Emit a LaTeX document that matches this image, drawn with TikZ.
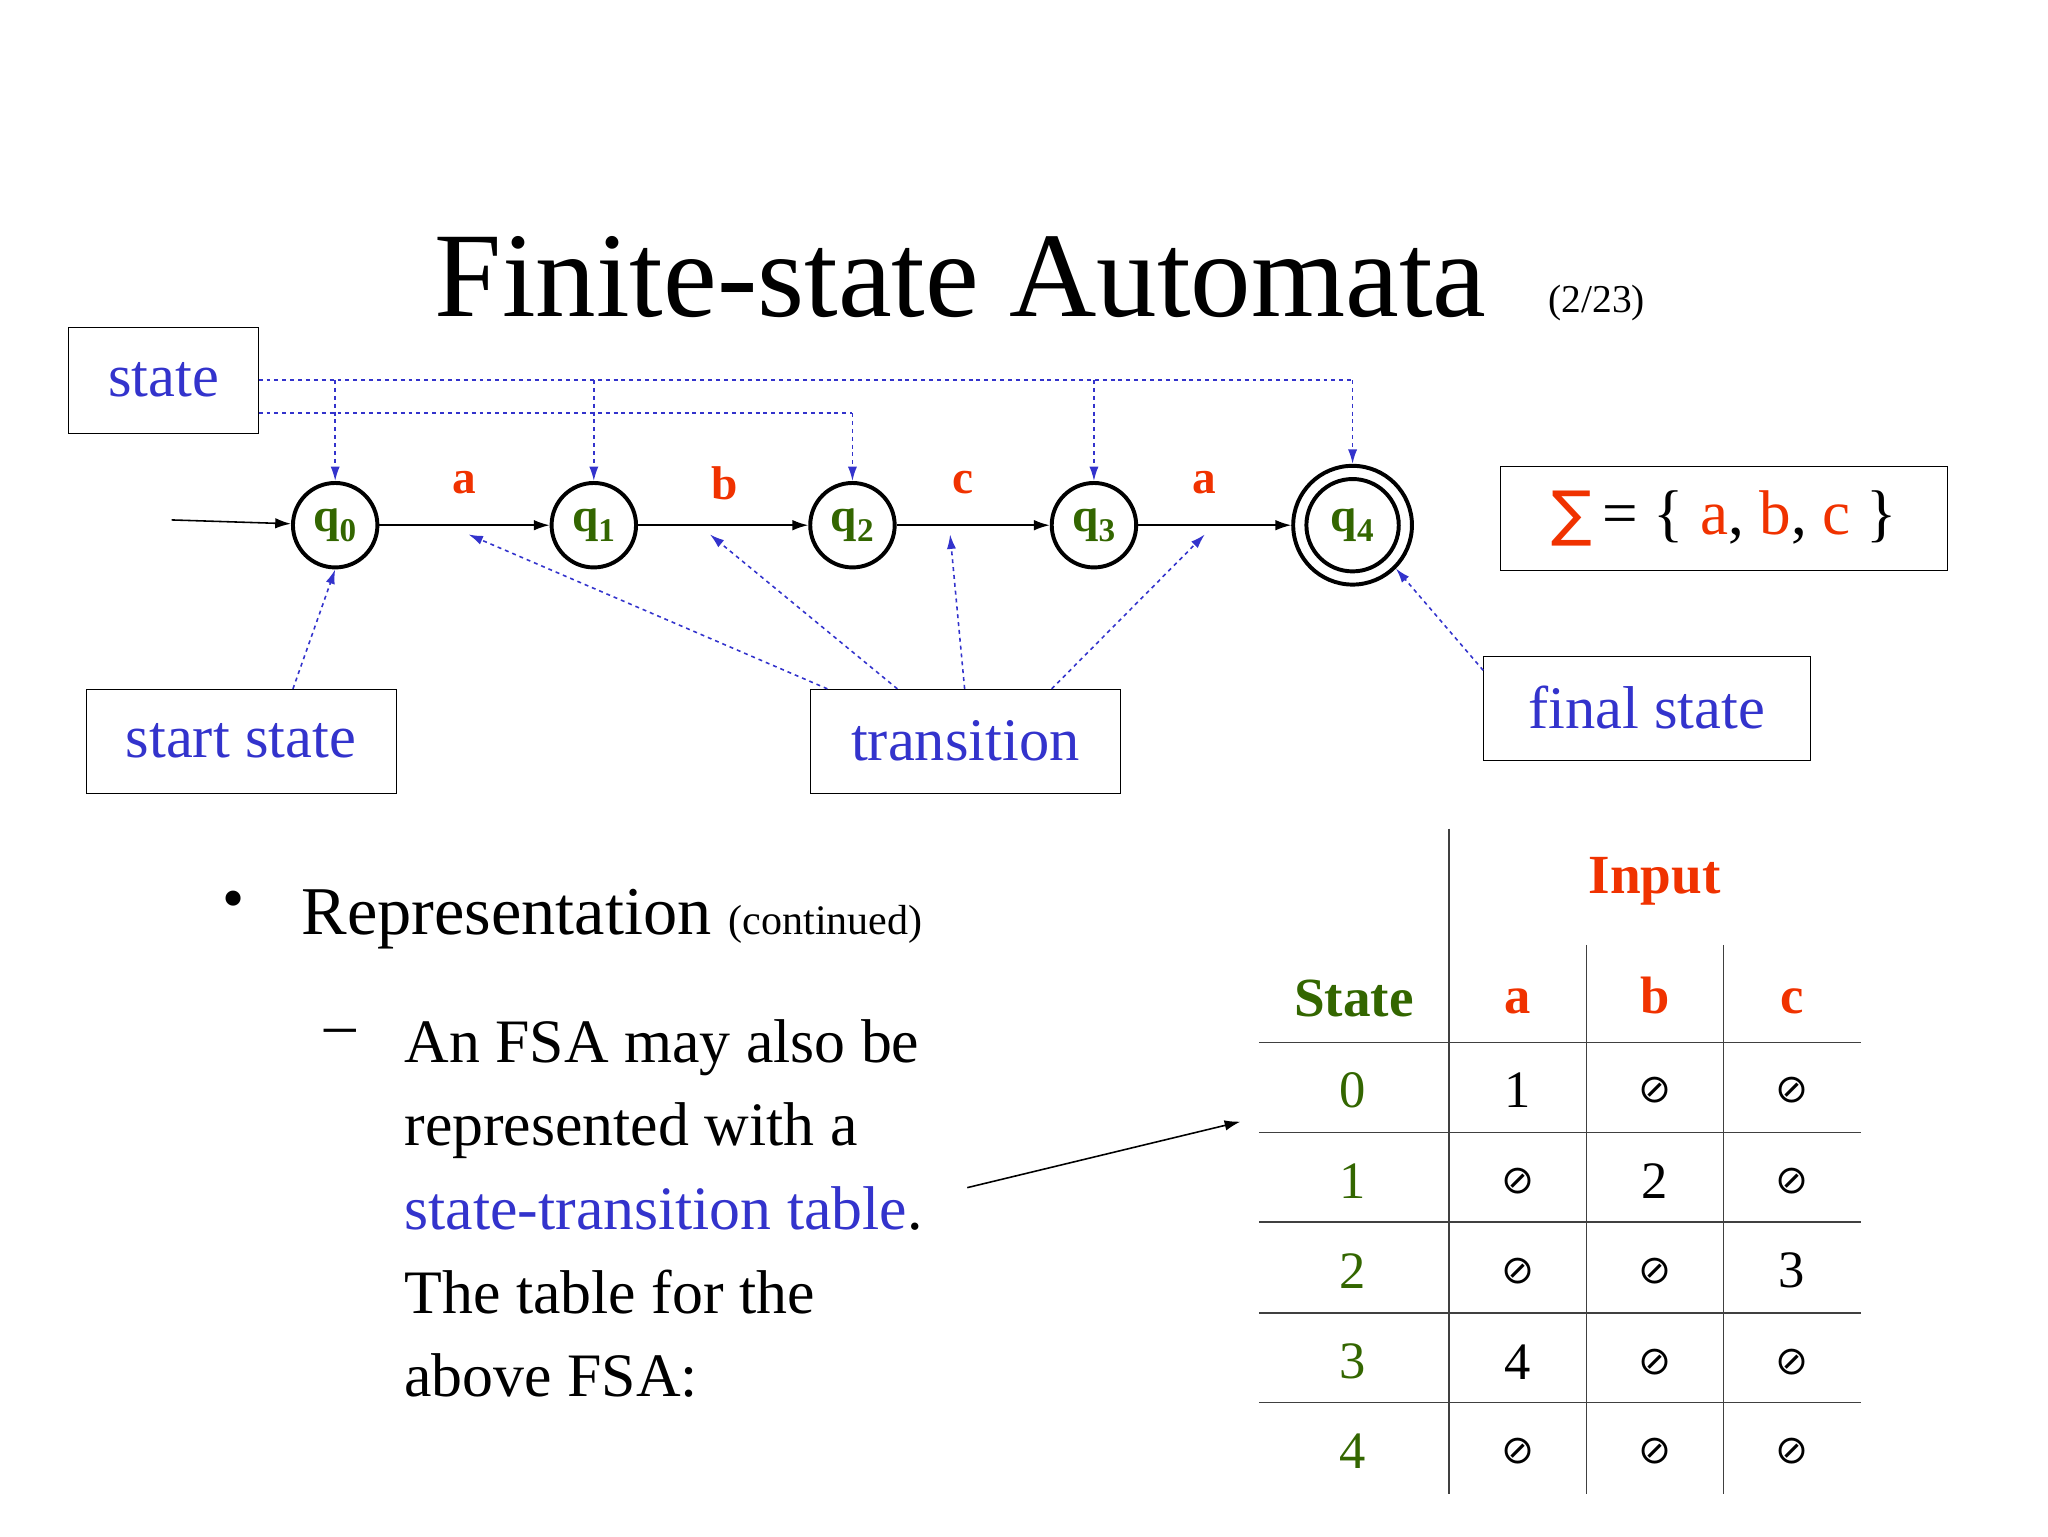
\documentclass[tikz,border=0pt]{standalone}
\usepackage{fontspec}
\setmainfont{Liberation Serif}
\newfontfamily\dvs{DejaVu Sans}
\usetikzlibrary{arrows.meta}
\definecolor{tblue}{RGB}{51,51,204}
\definecolor{tred}{RGB}{240,50,0}
\definecolor{tgreen}{RGB}{51,102,0}
\newcommand{\fs}[1]{\fontsize{#1}{#1}\selectfont}
\newcommand{\es}{{\dvs\fs{30}⊘}}
\begin{document}
\begin{tikzpicture}[x=1bp,y=-1bp,
  st/.style={circle,draw,line width=3pt,minimum size=64bp,inner sep=0pt,text=tgreen,font=\fs{36}\bfseries},
  lbox/.style={draw,rectangle,text=tblue,font=\fs{46},inner sep=0pt},
  el/.style={text=tred,font=\fs{36}\bfseries},
  arr/.style={line width=1.2pt,-{Latex[length=12pt,width=8pt]}},
  dsh/.style={tblue,dashed,line width=1.2pt,-{Latex[length=11pt,width=7pt]}},
  tl/.style={black!75,line width=1pt},
  cell/.style={font=\fs{40}}]
\useasboundingbox (0,0) rectangle (1552,1164);
\node[font=\fs{92},anchor=base] (title) at (728,240) {Finite-state Automata};
\node[font=\fs{30},anchor=west] (pg) at (1170,230) {(2/23)};
% states
\node[st] (q0) at (254,398) {q\textsubscript{0}};
\node[st] (q1) at (450,398) {q\textsubscript{1}};
\node[st] (q2) at (646,398) {q\textsubscript{2}};
\node[st] (q3) at (829,398) {q\textsubscript{3}};
\node[st,minimum size=70bp] (q4) at (1025,398) {q\textsubscript{4}};
\node[circle,draw,line width=3pt,minimum size=90bp] (q4o) at (1025,398) {};
\coordinate (s0) at (130,394);
\draw[arr] (s0) -- (q0);
\foreach \a/\b in {q0/q1,q1/q2,q2/q3}\draw[arr] (\a) -- (\b);
\draw[arr] (q3) -- (q4o);
\node[el] (la) at (352,366) {a};
\node[el] (lb) at (549,366) {b};
\node[el] (lc) at (730,366) {c};
\node[el] (ld) at (913,366) {a};
% boxes
\node[lbox,minimum width=144bp,minimum height=80bp] (sbox) at (124,288) {state};
\node[lbox,minimum width=235bp,minimum height=79bp] (start) at (182.5,561.5) {start state};
\node[lbox,minimum width=235bp,minimum height=79bp] (trans) at (731.5,561.5) {transition};
\node[lbox,minimum width=248bp,minimum height=79bp] (fin) at (1248,536.5) {final state};
\node[draw,minimum width=339bp,minimum height=79bp,font=\fs{48},inner sep=0pt] (sig) at (1306.5,392.5) {\textcolor{tred}{{\dvs\fs{46}∑}}\,= \{ \textcolor{tred}{a}, \textcolor{tred}{b}, \textcolor{tred}{c} \}};
% dashed from state
\coordinate (h1) at (1025,288);
\draw[tblue,dashed,line width=1.2pt] (196,288) -- (h1);
\draw[tblue,dashed,line width=1.2pt] (196,313) -- (646,313);
\foreach \x/\n in {254/q0,450/q1,829/q3}\draw[dsh] (\x,288) -- (\n.north);
\draw[dsh] (646,313) -- (q2.north);
\draw[dsh] (h1) -- (q4o.north);
\draw[dsh] (222,522) -- (q0.south);
\draw[dsh] (627,522) -- (355,405);
\draw[dsh] (680,522) -- (538,405);
\draw[dsh] (731,522) -- (720,405);
\draw[dsh] (797,522) -- (913,405);
\draw[dsh] (1124,508) -- (q4o.south east);
% text
\node[font=\fs{48}] (bul) at (177,686) {•};
\node[anchor=base west,font=\fs{52}] (rep) at (225,708) {Representation \fs{32}(continued)};
\node[font=\fs{48}] (dash) at (258,786) {–};
\begin{scope}[every node/.style={anchor=base west,font=\fs{47}}]
\node (l1) at (303,805) {An FSA may also be};
\node (l2) at (303,868) {represented with a};
\node (l3) at (303,932) {\textcolor{tblue}{state-transition table}.};
\node (l4) at (303,995) {The table for the};
\node (l5) at (303,1058) {above FSA:};
\end{scope}
\coordinate (ar) at (940,850);
\draw[arr] (733,900) -- (ar);
% table
\draw[tl] (1098,628) -- (1098,1132);
\draw[tl] (1202,716) -- (1202,1132);
\draw[tl] (1306,716) -- (1306,1132);
\foreach \y in {790,858,926,995,1063}\draw[tl] (954,\y) -- (1410,\y);
\node[text=tred,font=\fs{42}\bfseries] (inp) at (1254,668) {Input};
\node[text=tgreen,font=\fs{42}\bfseries] (sth) at (1026,757) {State};
\node[text=tred,font=\fs{40}\bfseries,anchor=base] (ha) at (1150,768) {a};
\node[text=tred,font=\fs{40}\bfseries,anchor=base] (hb) at (1254,768) {b};
\node[text=tred,font=\fs{40}\bfseries,anchor=base] (hc) at (1358,768) {c};
\foreach \r/\y/\A/\B/\C in {0/826/1/\es/\es,1/895/\es/2/\es,2/963/\es/\es/3,3/1032/4/\es/\es,4/1100/\es/\es/\es}{
  \node[cell,text=tgreen] (r\r) at (1025,\y) {\r};
  \node[cell] (a\r) at (1150,\y) {\A};
  \node[cell] (b\r) at (1254,\y) {\B};
  \node[cell] (c\r) at (1358,\y) {\C};
}
\end{tikzpicture}
\end{document}
